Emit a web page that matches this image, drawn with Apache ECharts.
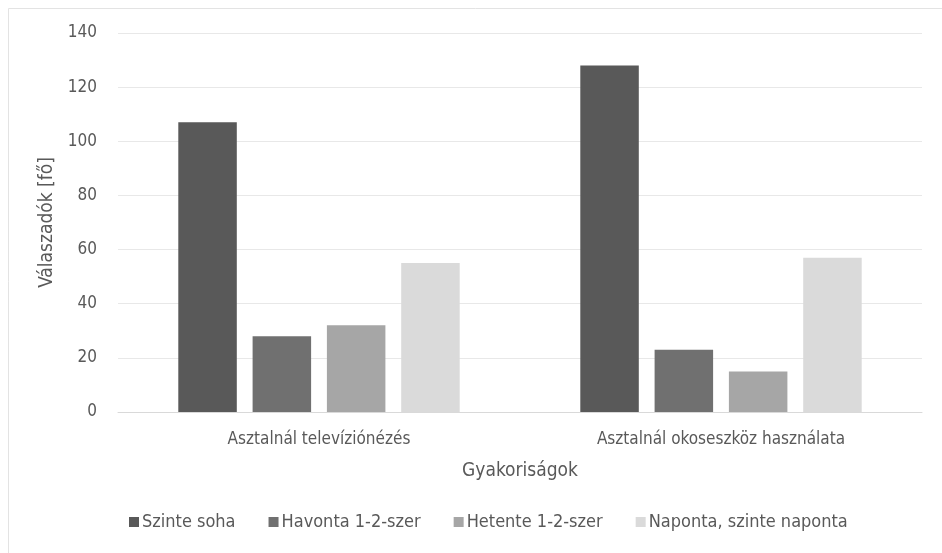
<!DOCTYPE html>
<html><head><meta charset="utf-8">
<script src="https://cdn.jsdelivr.net/npm/echarts@6/dist/echarts.min.js"></script>
<style>html,body{margin:0;padding:0;background:#fff}#c{width:942px;height:553px}</style>
</head><body><div id="c"></div>
<script>
const categories = ['Asztalnál televíziónézés', 'Asztalnál okoseszköz használata'];
const seriesNames = ['Szinte soha', 'Havonta 1-2-szer', 'Hetente 1-2-szer', 'Naponta, szinte naponta'];
const szinteSoha = [107, 128];
const havonta = [28, 23];
const hetente = [32, 15];
const naponta = [55, 57];
const colors = ['#595959', '#707070', '#a6a6a6', '#dadada'];
const values = [szinteSoha, havonta, hetente, naponta];
const font = '"Liberation Sans Narrow", "DejaVu Sans Condensed", "Open Sans", sans-serif';
const chart = echarts.init(document.getElementById('c'));
chart.setOption({
  animation: false,
  textStyle: { fontFamily: font },
  graphic: [{ type: 'rect', shape: { x: 8.5, y: 8.5, width: 1000, height: 1000 }, style: { fill: 'none', stroke: '#e3e3e3', lineWidth: 1 }, silent: true }],
  grid: { left: 118, right: 20, top: 33, bottom: 141 },
  legend: {
    bottom: 17, left: 124, itemWidth: 10, itemHeight: 10, itemGap: 33,
    icon: 'rect',
    textStyle: { color: '#595959', fontSize: 18, fontFamily: font, padding: [0, 0, 0, -2] },
    data: seriesNames
  },
  xAxis: {
    type: 'category', data: categories,
    name: 'Gyakoriságok', nameLocation: 'middle', nameGap: 50,
    nameTextStyle: { color: '#595959', fontSize: 19, fontFamily: font },
    axisLine: { lineStyle: { color: '#d9d9d9' } },
    axisTick: { show: false },
    axisLabel: { color: '#595959', fontSize: 17, margin: 19, fontFamily: font }
  },
  yAxis: {
    type: 'value', min: 0, max: 140, interval: 20,
    name: 'Válaszadók [fő]', nameLocation: 'middle', nameGap: 56, nameRotate: 90,
    nameTextStyle: { color: '#595959', fontSize: 19, fontFamily: font },
    axisLine: { show: false }, axisTick: { show: false },
    axisLabel: { color: '#595959', fontSize: 17, margin: 21, fontFamily: font },
    splitLine: { lineStyle: { color: '#e8e8e8', width: 1 } }
  },
  series: seriesNames.map((n, i) => ({
    name: n, type: 'bar', data: values[i],
    itemStyle: { color: colors[i] },
    barGap: '27%', barCategoryGap: '30%'
  }))
});
</script></body></html>
